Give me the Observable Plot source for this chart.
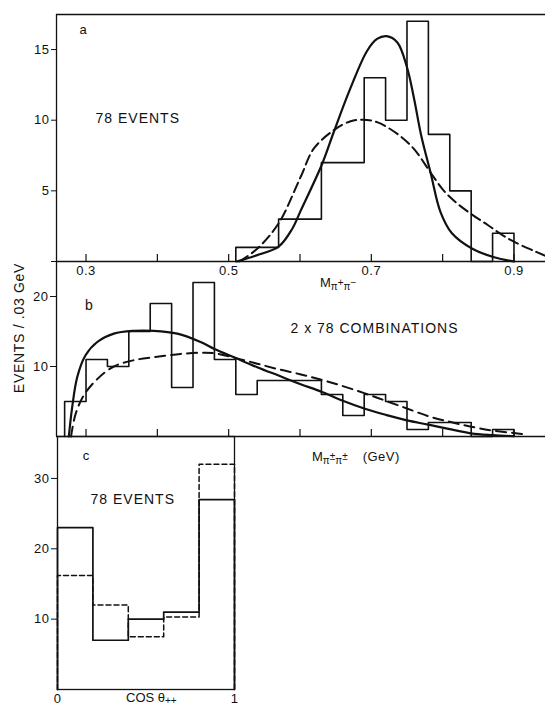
<!DOCTYPE html>
<html>
<head>
<meta charset="utf-8">
<script src="https://cdn.jsdelivr.net/npm/d3@7"></script>
<script src="https://cdn.jsdelivr.net/npm/@observablehq/plot@0.6"></script>
<style>
html, body { margin: 0; padding: 0; background: #fff; }
#fig { position: relative; width: 545px; height: 706px; overflow: hidden; background: #fff;
  font-family: "Liberation Sans", Arial, sans-serif; color: #111; }
.pane { position: absolute; left: 0; }
#fig svg text { letter-spacing: 0.5px; }
#fig svg g[aria-label="text"] text { letter-spacing: 1px; }
.lbl { position: absolute; white-space: nowrap; font-size: 13px; line-height: 13px; }
.sub { position: relative; top: 3px; font-size: 10px; }
.sup { position: relative; top: -4px; font-size: 10px; }
#ylabel { position: absolute; left: 18.5px; top: 328px; transform: translate(-50%, -50%) rotate(-90deg);
  font-size: 14px; line-height: 14px; letter-spacing: 0.7px; white-space: nowrap; }
</style>
</head>
<body>
<div id="fig">
  <div class="pane" id="pa" style="top:0px"></div>
  <div class="pane" id="pb" style="top:250px"></div>
  <div class="pane" id="pc" style="top:436px"></div>
  <div id="ylabel">EVENTS / .03 GeV</div>
  <div class="lbl" style="left:320px;top:276px">M<span class="sub">π<span class="sup">+</span>π<span class="sup">−</span></span></div>
  <div class="lbl" style="left:312px;top:450px">M<span class="sub">π<span class="sup">±</span>π<span class="sup">±</span></span><span style="margin-left:15px;letter-spacing:0.5px">(GeV)</span></div>
  <div class="lbl" style="left:126px;top:691px">COS θ<span class="sub" style="top:2px">++</span></div>
</div>
<script>
// ---------- data ----------
const xTicks = [0.3, 0.4, 0.5, 0.6, 0.7, 0.8, 0.9];
const xTickLabels = [0.3, 0.5, 0.7, 0.9];
const yTicksA = [0, 5, 10, 15];
const yTicksB = [10, 20];
const yTicksC = [10, 20, 30];
const xTicksC = [0, 1];

// panel a: M(pi+ pi-)
const edgesA = [0.51, 0.54, 0.57, 0.60, 0.63, 0.66, 0.69, 0.72, 0.75, 0.78, 0.81, 0.84, 0.87, 0.90];
const countsA = [1, 1, 3, 3, 7, 7, 13, 10, 17, 9, 5, 0, 2];
const fitSolidA = [[0.511,0],[0.540,0.45],[0.570,1.05],[0.589,2.3],[0.601,3.6],[0.631,6.9],[0.6476,9.2],
  [0.671,12.3],[0.694,14.9],[0.708,15.75],[0.7215,15.95],[0.7365,15.5],[0.750,13.75],[0.760,11.5],
  [0.770,8.9],[0.783,6.3],[0.797,3.5],[0.813,2.0],[0.8417,0.9],[0.872,0.3],[0.900,0]];
const fitDashedA = [[0.515,0],[0.540,0.9],[0.570,2.7],[0.601,6.0],[0.6195,8.0],[0.6476,9.3],[0.671,9.93],
  [0.6874,10.03],[0.708,9.86],[0.7365,9.03],[0.7597,7.97],[0.783,6.3],[0.8018,5.0],[0.8206,4.1],
  [0.8417,3.3],[0.8627,2.6],[0.8813,1.95],[0.900,1.4],[0.928,0.75],[0.944,0.4]];

// panel b: M(pi+- pi+-)
const edgesB = [0.27, 0.30, 0.33, 0.36, 0.39, 0.42, 0.45, 0.48, 0.51, 0.54, 0.57, 0.60, 0.63, 0.66, 0.69, 0.72, 0.75, 0.78, 0.81, 0.84, 0.87, 0.90];
const countsB = [5, 11, 10, 15, 19, 7, 22, 11, 6, 8, 8, 8, 6, 3, 6, 5, 1, 2, 2, 0, 1];
const fitSolidB = [[0.2759,0],[0.2806,4.2],[0.2877,8.5],[0.2993,11.6],[0.3157,13.5],[0.339,14.7],[0.367,15.1],
  [0.395,15.1],[0.428,14.7],[0.4606,13.5],[0.48,12.5],[0.51,11.2],[0.54,9.9],[0.57,8.7],[0.60,7.5],
  [0.63,6.4],[0.66,5.1],[0.69,4.0],[0.72,3.1],[0.75,2.3],[0.78,1.7],[0.81,1.05],[0.84,0.45],[0.87,0.2],[0.90,0.05]];
const fitDashedB = [[0.279,0],[0.2853,3.2],[0.297,5.9],[0.3157,8.2],[0.339,10.0],[0.367,10.9],[0.3998,11.4],
  [0.4325,11.8],[0.4606,11.96],[0.48,11.9],[0.51,11.2],[0.54,10.4],[0.57,9.6],[0.60,8.9],[0.63,8.1],
  [0.66,7.2],[0.69,6.2],[0.72,5.1],[0.75,4.0],[0.78,2.9],[0.81,2.1],[0.84,1.4],[0.87,0.85],[0.90,0.5],[0.915,0.3]];

// panel c: cos theta++
const edgesC = [0, 0.2, 0.4, 0.6, 0.8, 1];
const countsCSolid = [23, 7, 10, 11, 27];
const countsCDashed = [16.2, 12, 7.5, 10.3, 32];

const letterA = "a", letterB = "b", letterC = "c";
const eventsLabel = "78 EVENTS";
const combosLabel = "2 x 78 COMBINATIONS";

// ---------- helpers ----------
function stepPoints(edges, counts) {
  const pts = [[edges[0], 0]];
  counts.forEach((c, i) => pts.push([edges[i], c]));
  pts.push([edges[edges.length - 1], counts[counts.length - 1]]);
  pts.push([edges[edges.length - 1], 0]);
  return pts;
}
const X = d => d[0], Y = d => d[1];
const ink = "#111";
const style = {fontFamily: '"Liberation Sans", Arial, sans-serif', fontSize: "13px", background: "transparent", color: ink, overflow: "visible"};
const xDomain = [0.2586, 0.9442];
const yTopA = 17.48;

// ---------- panel a ----------
const chartA = Plot.plot({
  width: 545, height: 290, marginLeft: 56, marginRight: 0, marginTop: 14, marginBottom: 29,
  style,
  x: {domain: xDomain, ticks: xTickLabels, tickSize: 0, tickPadding: 4, tickFormat: d => d.toFixed(1), label: null},
  y: {domain: [0, yTopA], ticks: yTicksA, tickSize: 5, tickPadding: 2, tickFormat: d => d === 0 ? "" : String(d), label: null},
  marks: [
    Plot.ruleX([xDomain[0]], {stroke: ink, strokeWidth: 1.3}),
    Plot.ruleY([0], {stroke: ink, strokeWidth: 1.3}),
    Plot.ruleY([yTopA], {stroke: ink, strokeWidth: 1.3}),
    Plot.ruleX(xTicks, {y1: 0, y2: 0, insetTop: -7, stroke: ink, strokeWidth: 1.2}),
    Plot.line(stepPoints(edgesA, countsA), {x: X, y: Y, curve: "step-after", stroke: ink, strokeWidth: 1.6}),
    Plot.line(fitSolidA, {x: X, y: Y, curve: "catmull-rom", stroke: ink, strokeWidth: 2.2}),
    Plot.line(fitDashedA, {x: X, y: Y, curve: "catmull-rom", stroke: ink, strokeWidth: 2, strokeDasharray: "10,5"}),
    Plot.text([letterA], {text: d => d, frameAnchor: "top-left", dx: 27, dy: 15, textAnchor: "middle", lineAnchor: "middle", fontSize: 13, fill: ink}),
    Plot.text([eventsLabel], {text: d => d, frameAnchor: "top-left", dx: 39, dy: 104, textAnchor: "start", lineAnchor: "middle", fontSize: 14, fill: ink})
  ]
});
document.getElementById("pa").appendChild(chartA);

// ---------- panel b ----------
const chartB = Plot.plot({
  width: 545, height: 230, marginLeft: 56, marginRight: 0, marginTop: 11, marginBottom: 44,
  style,
  x: {domain: xDomain, axis: null},
  y: {domain: [0, 25], ticks: yTicksB, tickSize: 6, tickPadding: 2, label: null},
  marks: [
    Plot.ruleX([xDomain[0]], {stroke: ink, strokeWidth: 1.3}),
    Plot.ruleY([0], {stroke: ink, strokeWidth: 1.3}),
    Plot.ruleX(xTicks, {y1: 0, y2: 0, insetTop: -7, stroke: ink, strokeWidth: 1.2}),
    Plot.line(stepPoints(edgesB, countsB), {x: X, y: Y, curve: "step-after", stroke: ink, strokeWidth: 1.6}),
    Plot.line(fitSolidB, {x: X, y: Y, curve: "catmull-rom", stroke: ink, strokeWidth: 2.2}),
    Plot.line(fitDashedB, {x: X, y: Y, curve: "catmull-rom", stroke: ink, strokeWidth: 2, strokeDasharray: "10,6"}),
    Plot.text([letterB], {text: d => d, frameAnchor: "top-left", dx: 33, dy: 44, textAnchor: "middle", lineAnchor: "middle", fontSize: 14, fill: ink}),
    Plot.text([combosLabel], {text: d => d, frameAnchor: "top-left", dx: 318, dy: 67, textAnchor: "middle", lineAnchor: "middle", fontSize: 14, fill: ink})
  ]
});
document.getElementById("pb").appendChild(chartB);

// ---------- panel c ----------
const chartC = Plot.plot({
  width: 260, height: 270, marginLeft: 57, marginRight: 26, marginTop: 0, marginBottom: 17,
  style,
  x: {domain: [0, 1], ticks: xTicksC, tickSize: 0, tickPadding: 4, tickFormat: d => String(d), label: null},
  y: {domain: [0, 35.96], ticks: yTicksC, tickSize: 6, tickPadding: 2, label: null},
  marks: [
    Plot.frame({stroke: ink, strokeWidth: 1.3}),
    Plot.line(stepPoints(edgesC, countsCDashed), {x: X, y: Y, curve: "step-after", stroke: ink, strokeWidth: 1.5, strokeDasharray: "5,3"}),
    Plot.line(stepPoints(edgesC, countsCSolid), {x: X, y: Y, curve: "step-after", stroke: ink, strokeWidth: 1.7}),
    Plot.text([letterC], {text: d => d, frameAnchor: "top-left", dx: 29, dy: 19, textAnchor: "middle", lineAnchor: "middle", fontSize: 13, fill: ink}),
    Plot.text([eventsLabel], {text: d => d, frameAnchor: "top-left", dx: 33, dy: 63.5, textAnchor: "start", lineAnchor: "middle", fontSize: 14, fill: ink})
  ]
});
document.getElementById("pc").appendChild(chartC);
</script>
</body>
</html>
